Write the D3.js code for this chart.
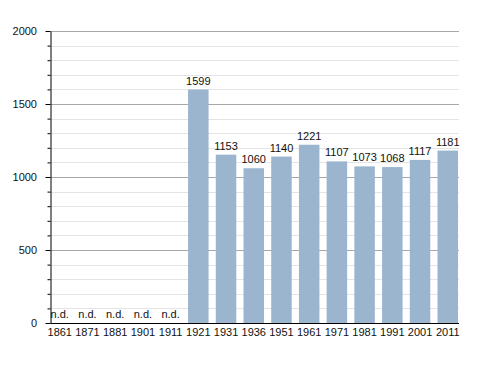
<!DOCTYPE html>
<html>
<head>
<meta charset="utf-8">
<script src="https://cdn.jsdelivr.net/npm/d3@7"></script>
<style>
  body { margin: 0; background: #fff; }
  text { font-family: "Liberation Sans", Arial, sans-serif; font-size: 11px; fill: #111; }
</style>
</head>
<body>
<svg id="chart" width="488" height="373"></svg>
<script>
// population by census year (null = no data)
var years = ["1861","1871","1881","1901","1911","1921","1931","1936","1951","1961","1971","1981","1991","2001","2011"];
var pop = [null, null, null, null, null, 1599, 1153, 1060, 1140, 1221, 1107, 1073, 1068, 1117, 1181];
var yMajor = [0, 500, 1000, 1500, 2000];

var svg = d3.select("#chart");
var plotL = 50.5, plotR = 459, plotT = 31, plotB = 323;

var x = d3.scaleBand().domain(years).range([plotL - 1, plotR - 1]).paddingInner(0.26).paddingOuter(0);
var y = d3.scaleLinear().domain([0, 2000]).range([plotB, plotT]);

var minor = d3.range(0, 2001, 100).filter(function(v) { return v % 500 != 0; });

// minor grid
svg.append("g").selectAll("line").data(minor).enter().append("line")
    .attr("x1", plotL).attr("x2", plotR)
    .attr("y1", function(d) { return Math.round(y(d)) + 0.5; })
    .attr("y2", function(d) { return Math.round(y(d)) + 0.5; })
    .attr("stroke", "#e4e4e4");

// major grid
svg.append("g").selectAll("line").data(yMajor.slice(1)).enter().append("line")
    .attr("x1", plotL).attr("x2", plotR)
    .attr("y1", function(d) { return Math.round(y(d)) + 0.5; })
    .attr("y2", function(d) { return Math.round(y(d)) + 0.5; })
    .attr("stroke", "#a8a8a8");

// bars
svg.append("g").selectAll("rect").data(years.filter(function(d, i) { return pop[i] != null; }))
    .enter().append("rect")
    .attr("x", function(d) { return x(d); })
    .attr("width", x.bandwidth())
    .attr("y", function(d) { return y(pop[years.indexOf(d)]); })
    .attr("height", function(d) { return plotB - y(pop[years.indexOf(d)]); })
    .attr("fill", "#9cb5cf");

// value labels / n.d.
svg.append("g").selectAll("text").data(years).enter().append("text")
    .attr("x", function(d) { return x(d) + x.bandwidth() / 2; })
    .attr("y", function(d, i) { return pop[i] == null ? plotB - 5 : y(pop[i]) - 5; })
    .attr("text-anchor", "middle")
    .text(function(d, i) { return pop[i] == null ? "n.d." : pop[i]; });

// y axis
var yAxis = d3.axisLeft(y).tickValues(d3.range(0, 2001, 100)).tickSize(0).tickFormat("");
var yg = svg.append("g").attr("transform", "translate(" + plotL + ",0)").call(yAxis);
yg.select(".domain").attr("stroke", "#000");
yg.selectAll(".tick line")
    .attr("x2", function(d) { return d % 500 == 0 ? -5 : -3; })
    .attr("stroke", "#000");

svg.append("g").selectAll("text").data(yMajor).enter().append("text")
    .attr("x", 37)
    .attr("y", function(d) { return y(d); })
    .attr("dy", "0.35em")
    .attr("text-anchor", "end")
    .text(function(d) { return d; });

// x axis
var xAxis = d3.axisBottom(x).tickSize(0).tickPadding(5);
var xg = svg.append("g").attr("transform", "translate(0," + plotB + ")").call(xAxis);
xg.select(".domain").attr("stroke", "#000").attr("d", "M" + plotL + ",0.5H" + plotR);
xg.selectAll("text").style("font-size", "11px").style("font-family", "Liberation Sans, Arial, sans-serif").attr("fill", "#111");
</script>
</body>
</html>
